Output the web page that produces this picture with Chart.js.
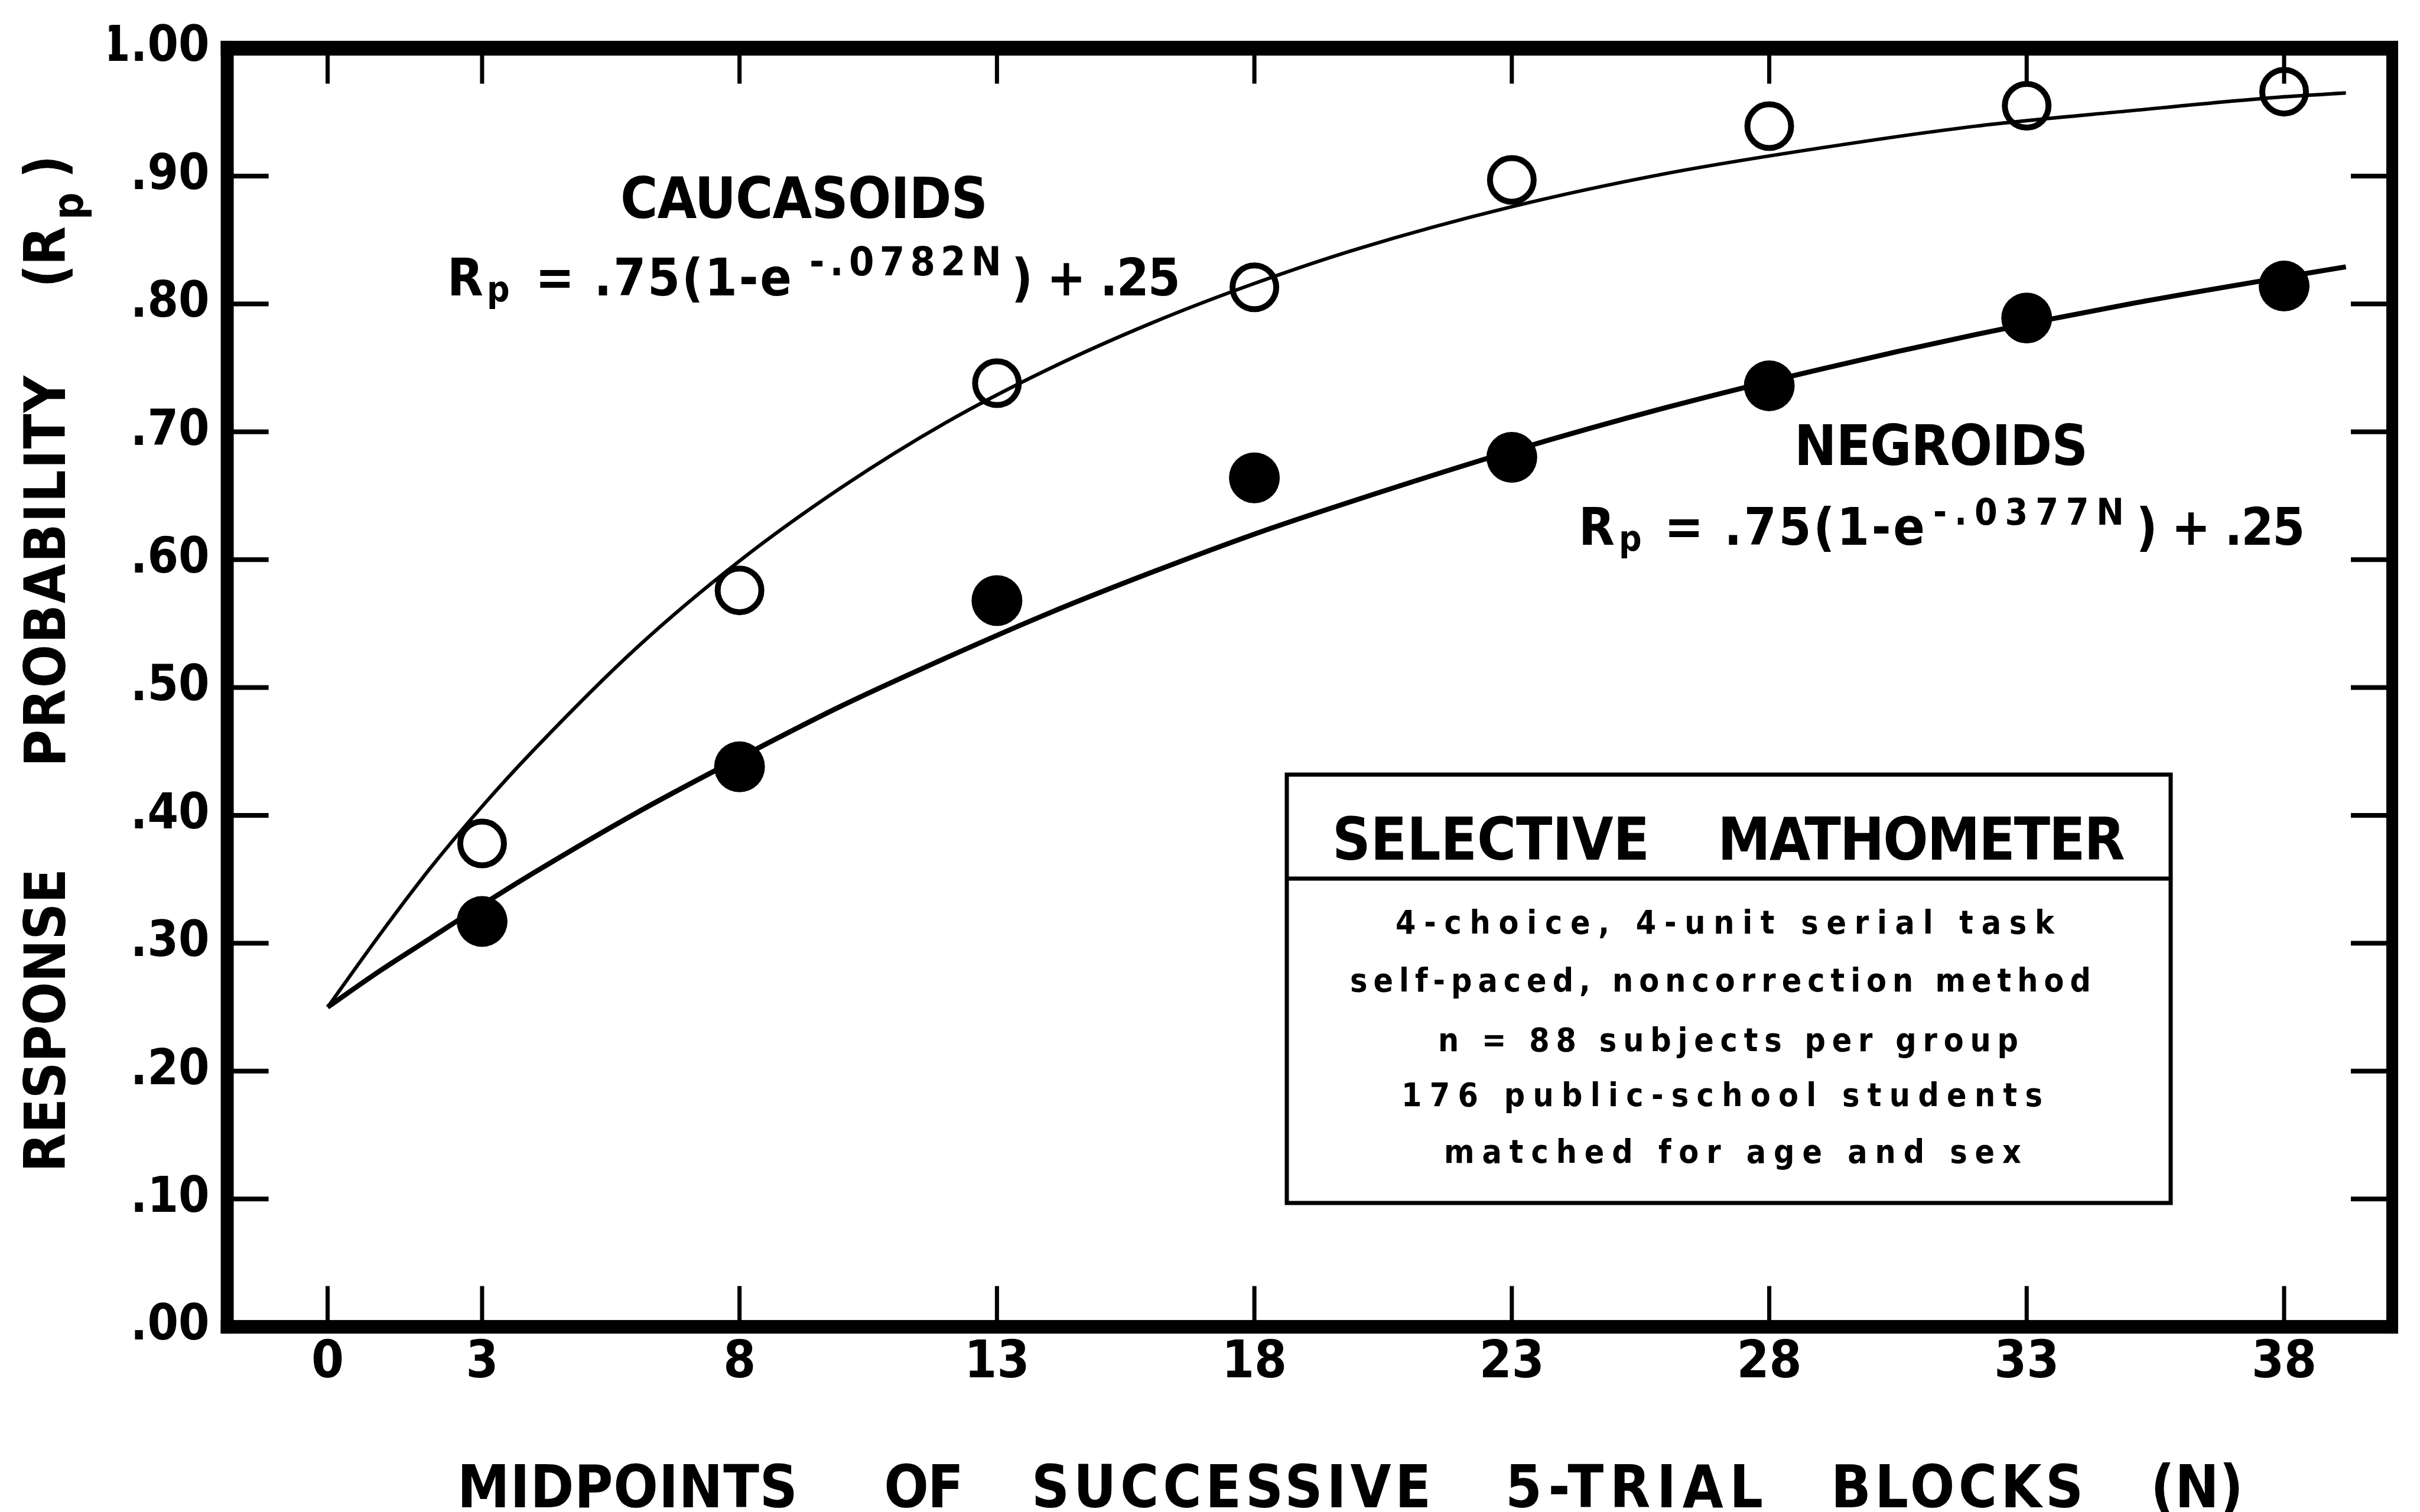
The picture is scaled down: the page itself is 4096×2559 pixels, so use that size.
<!DOCTYPE html>
<html>
<head>
<meta charset="utf-8">
<script src="https://cdn.jsdelivr.net/npm/chart.js@4.4.0/dist/chart.umd.min.js"></script>
<style>
html,body{margin:0;padding:0;background:#fff;}
#wrap{position:relative;width:4096px;height:2559px;overflow:hidden;}
</style>
</head>
<body>
<div id="wrap"><canvas id="c" width="4096" height="2559"></canvas></div>
<script>
// ---- data ----
const xTickValues = [0, 3, 8, 13, 18, 23, 28, 33, 38];
const yTickValues = [0, 0.1, 0.2, 0.3, 0.4, 0.5, 0.6, 0.7, 0.8, 0.9, 1.0];
const yTickLabels = ['.00', '.10', '.20', '.30', '.40', '.50', '.60', '.70', '.80', '.90', '1.00'];

const blockMidpoints = [3, 8, 13, 18, 23, 28, 33, 38];
const caucasoidPoints = [0.378, 0.576, 0.738, 0.813, 0.897, 0.939, 0.955, 0.966];
const negroidPoints   = [0.317, 0.438, 0.568, 0.664, 0.680, 0.736, 0.789, 0.814];

const curveN = [0, 1, 2, 3, 4, 6, 8, 10, 12, 14, 16, 18, 20, 23, 26, 29, 32, 35, 38, 39.2];
const caucasoidCurve = [0.250, 0.306, 0.359, 0.407, 0.451, 0.531, 0.599, 0.657, 0.707, 0.749, 0.785, 0.816, 0.843, 0.876, 0.902, 0.922, 0.939, 0.951, 0.962, 0.965];
const negroidCurve   = [0.250, 0.278, 0.304, 0.330, 0.355, 0.402, 0.445, 0.486, 0.523, 0.558, 0.590, 0.620, 0.647, 0.685, 0.719, 0.749, 0.776, 0.800, 0.821, 0.829];

const FONT = '"DejaVu Sans Condensed", "Liberation Sans Narrow", "DejaVu Sans", sans-serif';

const toXY = (xs, ys) => xs.map((x, i) => ({x: x, y: ys[i]}));

function drawFit(ctx, text, x, y, target, size) {
  ctx.save();
  ctx.font = 'bold ' + size + 'px ' + FONT;
  const hasLS = ('letterSpacing' in ctx);
  if (hasLS) ctx.letterSpacing = '0px';
  const w0 = ctx.measureText(text).width;
  const n = Array.from(text).length;
  let dx = 0;
  if (target && n > 1 && hasLS) {
    let s = (target - w0) / (n - 1);
    if (s < -2) {
      s = -2;
      dx = (target - (w0 + s * (n - 1))) / 2;
    }
    ctx.letterSpacing = s.toFixed(2) + 'px';
  }
  ctx.fillStyle = '#000';
  ctx.textAlign = 'left';
  ctx.textBaseline = 'alphabetic';
  ctx.fillText(text, x + dx, y);
  ctx.restore();
}

const framePlugin = {
  id: 'frame',
  beforeDraw(chart) {
    const c = chart.ctx;
    c.save();
    c.fillStyle = '#fff';
    c.fillRect(0, 0, chart.width, chart.height);
    c.restore();
  },
  afterDraw(chart) {
    const ctx = chart.ctx;
    const a = chart.chartArea;
    const xs = chart.scales.x, ys = chart.scales.y;
    ctx.save();
    ctx.fillStyle = '#000';
    // frame
    ctx.fillRect(a.left - 11, a.top - 12.5, 22, a.bottom - a.top + 24);
    ctx.fillRect(a.right - 10, a.top - 12.5, 20, a.bottom - a.top + 24);
    ctx.fillRect(a.left - 11, a.top - 12.5, a.right - a.left + 21, 25);
    ctx.fillRect(a.left - 11, a.bottom - 11.5, a.right - a.left + 21, 23);
    // inner ticks
    xTickValues.forEach(v => {
      const px = xs.getPixelForValue(v);
      ctx.fillRect(px - 3.5, a.bottom - 69, 7, 69);
      ctx.fillRect(px - 3.5, a.top, 7, 60);
    });
    yTickValues.forEach(v => {
      if (v <= 0 || v >= 1) return;
      const py = ys.getPixelForValue(v);
      ctx.fillRect(a.left, py - 4, 70, 8);
      ctx.fillRect(a.right - 70, py - 4, 70, 8);
    });

    // y-axis title (rotated)
    ctx.save();
    ctx.translate(110, 0);
    ctx.rotate(-Math.PI / 2);
    drawFit(ctx, 'RESPONSE', -1984, 0, 514, 96);
    drawFit(ctx, 'PROBABILITY', -1298, 0, 662, 96);
    drawFit(ctx, '(R', -485, 0, 100, 96);
    drawFit(ctx, 'p', -372, 30, 0, 72);
    drawFit(ctx, ')', -302, 0, 0, 96);
    ctx.restore();

    // x-axis title
    const xt = [['MIDPOINTS', 774, 576], ['OF', 1506, 115], ['SUCCESSIVE', 1746, 676],
                ['5-TRIAL', 2548, 436], ['BLOCKS', 3099, 427], ['(N)', 3640, 157]];
    xt.forEach(w => drawFit(ctx, w[0], w[1], 2551, w[2], 99));

    // Caucasoids annotation
    drawFit(ctx, 'CAUCASOIDS', 1050, 369, 622, 96);
    drawFit(ctx, 'R', 757, 500, 0, 88);
    drawFit(ctx, 'p', 824, 510, 0, 60);
    drawFit(ctx, '= .75(1-e', 906, 500, 434, 88);
    drawFit(ctx, '-.0782N', 1370, 466, 325, 68);
    drawFit(ctx, ') + .25', 1713, 500, 284, 88);

    // Negroids annotation
    drawFit(ctx, 'NEGROIDS', 3037, 787, 497, 95);
    drawFit(ctx, 'R', 2672, 922, 0, 88);
    drawFit(ctx, 'p', 2740, 932, 0, 60);
    drawFit(ctx, '= .75(1-e', 2817, 922, 441, 88);
    drawFit(ctx, '-.0377N', 3272, 888, 323, 62);
    drawFit(ctx, ') + .25', 3618, 922, 281, 88);

    // info box
    ctx.strokeStyle = '#000';
    ctx.lineWidth = 7;
    ctx.strokeRect(2178, 1311, 3674 - 2178, 2036 - 1311);
    ctx.beginPath();
    ctx.moveTo(2178, 1487);
    ctx.lineTo(3674, 1487);
    ctx.stroke();
    drawFit(ctx, 'SELECTIVE', 2255, 1455, 537, 100);
    drawFit(ctx, 'MATHOMETER', 2909, 1455, 686, 100);
    drawFit(ctx, '4-choice, 4-unit serial task', 2362, 1580, 1115, 55);
    drawFit(ctx, 'self-paced, noncorrection method', 2285, 1678, 1254, 55);
    drawFit(ctx, 'n = 88 subjects per group', 2434, 1779, 982, 55);
    drawFit(ctx, '176 public-school students', 2372, 1872, 1085, 55);
    drawFit(ctx, 'matched for age and sex', 2444, 1968, 977, 55);

    ctx.restore();
  }
};

const ctx = document.getElementById('c').getContext('2d');
new Chart(ctx, {
  type: 'scatter',
  data: {
    datasets: [
      {
        label: 'Caucasoids fit',
        data: toXY(curveN, caucasoidCurve),
        showLine: true, borderColor: '#000', borderWidth: 6,
        pointRadius: 0, cubicInterpolationMode: 'monotone', fill: false
      },
      {
        label: 'Negroids fit',
        data: toXY(curveN, negroidCurve),
        showLine: true, borderColor: '#000', borderWidth: 8.5,
        pointRadius: 0, cubicInterpolationMode: 'monotone', fill: false
      },
      {
        label: 'Caucasoids',
        data: toXY(blockMidpoints, caucasoidPoints),
        showLine: false, pointRadius: 37, pointBorderWidth: 10,
        pointBorderColor: '#000', pointBackgroundColor: 'rgba(0,0,0,0)'
      },
      {
        label: 'Negroids',
        data: toXY(blockMidpoints, negroidPoints),
        showLine: false, pointRadius: 43, pointBorderWidth: 0,
        pointBorderColor: '#000', pointBackgroundColor: '#000'
      }
    ]
  },
  options: {
    responsive: false,
    animation: false,
    devicePixelRatio: 1,
    events: [],
    layout: {padding: {left: 184.6, right: 40, top: 81.6, bottom: 163.4}},
    plugins: {legend: {display: false}, tooltip: {enabled: false}, title: {display: false}},
    scales: {
      x: {
        type: 'linear', min: -1.95, max: 40.1,
        grid: {display: false, drawTicks: false},
        border: {display: false},
        afterBuildTicks: s => { s.ticks = xTickValues.map(v => ({value: v})); },
        afterFit: s => { s.height = 150; },
        ticks: {
          font: {family: FONT, size: 88, weight: 'bold'}, color: '#000',
          padding: 10, autoSkip: false, maxRotation: 0, minRotation: 0,
          callback: v => String(v)
        }
      },
      y: {
        type: 'linear', min: 0, max: 1,
        grid: {display: false, drawTicks: false},
        border: {display: false},
        afterBuildTicks: s => { s.ticks = yTickValues.map(v => ({value: v})); },
        afterFit: s => { s.width = 200; },
        ticks: {
          font: {family: FONT, size: 84, weight: 'bold'}, color: '#000',
          padding: 30, autoSkip: false,
          callback: (v, i) => yTickLabels[i]
        }
      }
    }
  },
  plugins: [framePlugin]
});
</script>
</body>
</html>
